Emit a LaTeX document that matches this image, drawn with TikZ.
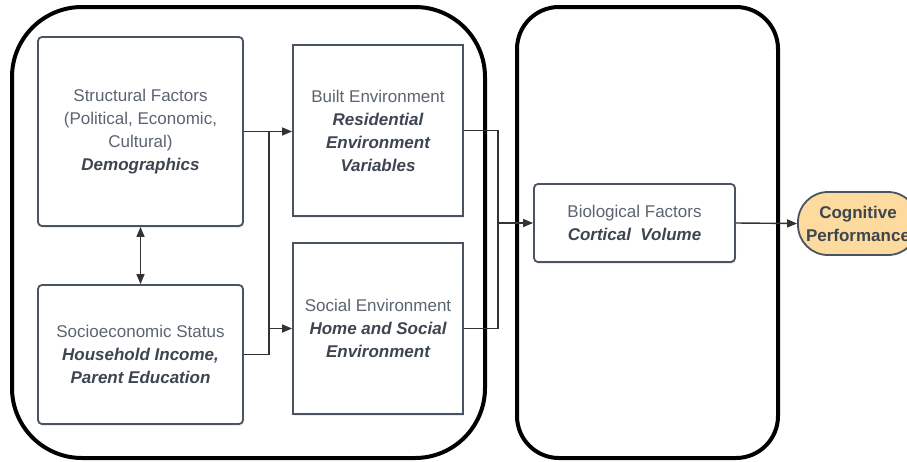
\documentclass[tikz,border=0pt]{standalone}
\usepackage{fontspec}
\setmainfont{Liberation Sans}
\usetikzlibrary{arrows.meta,shadows}
\definecolor{boxline}{HTML}{4A5360}
\definecolor{txtgray}{HTML}{5B6470}
\definecolor{txtdark}{HTML}{3C4550}
\definecolor{cogfill}{HTML}{FDDB9E}
\definecolor{wire}{HTML}{333333}
\tikzstyle{factor}=[rectangle,draw=boxline,line width=1.8pt,fill=white,align=center,text=txtgray,inner sep=0,
  font=\fontsize{17}{23}\selectfont,drop shadow={opacity=0.15,shadow xshift=1pt,shadow yshift=-2pt}]
\tikzstyle{roundfactor}=[factor,rounded corners=4pt]
\tikzstyle{outcome}=[rectangle,rounded corners=30pt,draw=boxline,line width=1.8pt,fill=cogfill,align=center,
  text=txtdark,inner sep=0,font=\fontsize{17}{23}\selectfont\bfseries]
\tikzstyle{group}=[line width=4pt,draw=black]
\tikzstyle{flow}=[line width=1.4pt,draw=wire,->,>={Triangle[length=10pt,width=8pt]}]
\tikzstyle{wireline}=[line width=1.4pt,draw=wire]
\newcommand{\emphvar}[1]{{\color{txtdark}\bfseries\itshape #1}}
\begin{document}
\begin{tikzpicture}[x=1pt,y=-1pt]
\useasboundingbox (0,0) rectangle (907,461);
\draw[group,rounded corners=70pt] (12,7) rectangle (485,458);
\draw[group,rounded corners=42pt] (517,7) rectangle (778,458);

\node[roundfactor,minimum width=205pt,minimum height=189pt] (struct) at (140.5,131.5)
  {Structural Factors\\(Political, Economic,\\Cultural)\\\emphvar{Demographics}};
\node[roundfactor,minimum width=205pt,minimum height=139pt] (ses) at (140.5,354.5)
  {Socioeconomic Status\\\emphvar{Household Income,}\\\emphvar{Parent Education}};
\node[factor,minimum width=170pt,minimum height=171pt] (built) at (378,130.5)
  {Built Environment\\\emphvar{Residential}\\\emphvar{Environment}\\\emphvar{Variables}};
\node[factor,minimum width=170pt,minimum height=171pt] (social) at (378,328.5)
  {Social Environment\\\emphvar{Home and Social}\\\emphvar{Environment}};
\node[roundfactor,minimum width=201pt,minimum height=78pt] (bio) at (634.5,223)
  {Biological Factors\\\emphvar{Cortical\ \ Volume}};
\node[outcome,minimum width=120pt,minimum height=63pt] (cog) at (858,223.5)
  {Cognitive\\Performance};

\coordinate (splitL) at (269,131);
\coordinate (merge) at (498,223);
\draw[flow] (struct.east) -- (struct.east -| built.west);
\draw[wireline] (ses.east) -| (splitL);
\draw[flow] (splitL |- social.west) -- (social.west);
\draw[wireline] (built.east) -| (merge);
\draw[wireline] (social.east) -| (merge);
\draw[flow] (merge) -- (bio.west);
\draw[flow] (bio.east) -- (cog.west);
\draw[flow,<->] (struct.south) -- (ses.north);
\end{tikzpicture}
\end{document}
